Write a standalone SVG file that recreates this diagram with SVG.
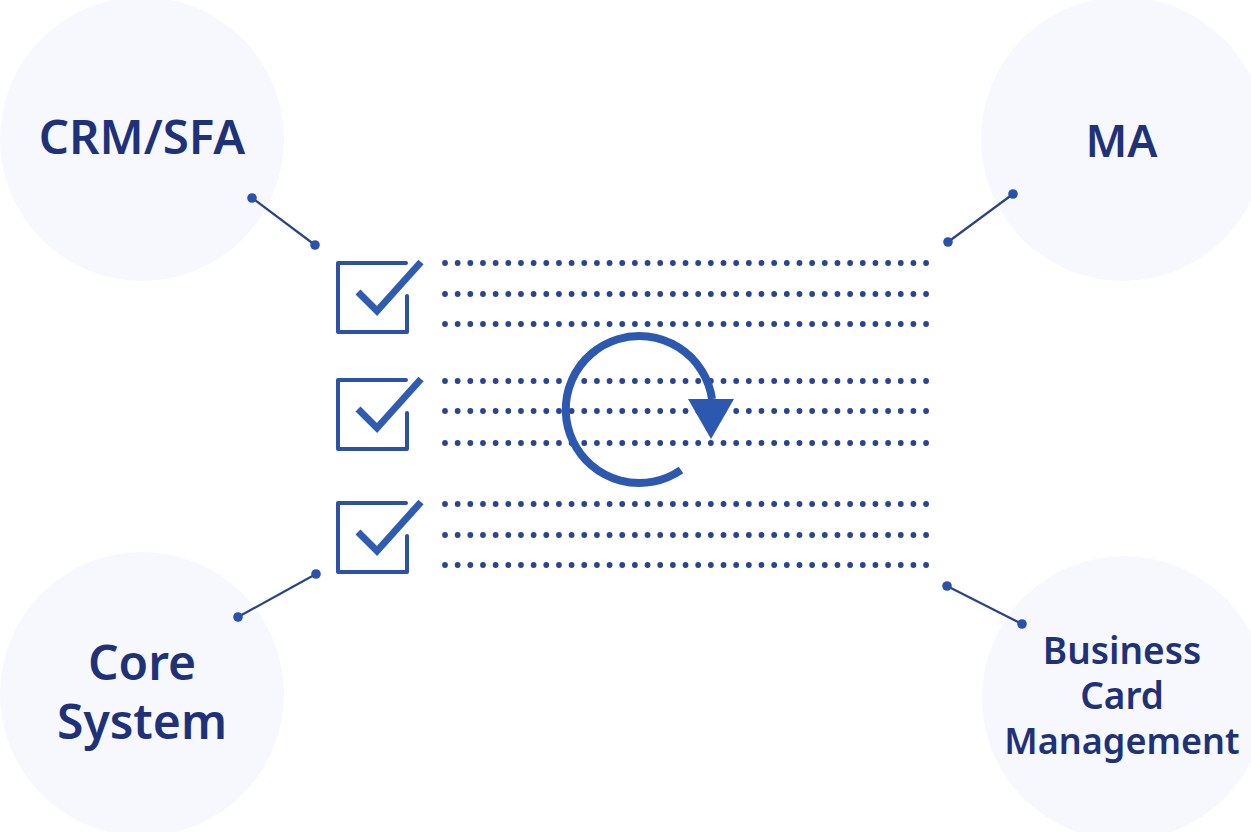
<svg xmlns="http://www.w3.org/2000/svg" width="1251" height="832" viewBox="0 0 1251 832">
<style>
.hub{fill:#f7f8fd}
.lbl{font-family:"Noto Sans","Open Sans",sans-serif;font-weight:600;fill:#1f3278;text-anchor:middle}
.big{font-size:48px}
.crm{font-size:47.500px}
.ma{font-size:45px}
.sm{font-size:37px}
.mg{font-size:36px}
.dots{stroke:#2a4590;stroke-width:5.800;stroke-linecap:round;stroke-dasharray:0 12.66;fill:none}
.conn{stroke:#2a4384;stroke-width:2.200;fill:none}
.end{fill:#2b52ab}
.box{stroke:#2b52a5;stroke-width:4;fill:none;stroke-linejoin:round;stroke-linecap:round}
.tick{stroke:#2f5bb0;stroke-width:7;fill:none;stroke-linejoin:miter}
</style>
<defs>
<g id="check">
<path class="box" d="M406 263H338V332H407V296"/>
<path class="tick" d="M358 292L377 311L421 262"/>
</g>
</defs>
<rect width="1251" height="832" fill="#ffffff"/>
<g id="node-crm"><circle class="hub" cx="142" cy="139" r="142"/><text class="lbl crm" x="142" y="154">CRM/SFA</text></g>
<g id="node-ma"><circle class="hub" cx="1123" cy="139" r="142"/><text class="lbl ma" x="1121.500" y="157">MA</text></g>
<g id="node-core"><circle class="hub" cx="142" cy="694" r="142"/><text class="lbl big" x="142" y="680">Core</text><text class="lbl big" x="142" y="739">System</text></g>
<g id="node-card"><circle class="hub" cx="1124" cy="698" r="142"/><text class="lbl sm" x="1122" y="664">Business</text><text class="lbl sm" x="1122" y="709">Card</text><text class="lbl mg" x="1122" y="754">Management</text></g>
<g id="connectors">
<path class="conn" d="M252 198L315 245"/><circle class="end" cx="252" cy="198" r="4.800"/><circle class="end" cx="315" cy="245" r="4.800"/>
<path class="conn" d="M1013 194L948 242"/><circle class="end" cx="1013" cy="194" r="4.800"/><circle class="end" cx="948" cy="242" r="4.800"/>
<path class="conn" d="M238 617L316 574"/><circle class="end" cx="238" cy="617" r="4.800"/><circle class="end" cx="316" cy="574" r="4.800"/>
<path class="conn" d="M947 586L1022 624"/><circle class="end" cx="947" cy="586" r="4.800"/><circle class="end" cx="1022" cy="624" r="4.800"/>
</g>
<g id="checklist">
<use href="#check"/>
<use href="#check" y="117"/>
<use href="#check" y="240"/>
<path class="dots" d="M445 263H930"/><path class="dots" d="M445 294H930"/><path class="dots" d="M445 324H930"/>
<path class="dots" d="M445 381H930"/><path class="dots" d="M445 411H930"/><path class="dots" d="M445 443H930"/>
<path class="dots" d="M445 504H930"/><path class="dots" d="M445 535H930"/><path class="dots" d="M445 565H930"/>
</g>
<g id="cycle">
<path d="M681 470A73.500 73.500 0 1 1 712 399" fill="none" stroke="#2d58b0" stroke-width="8"/>
<path d="M688 399H734L711 439Z" fill="#2d58b0"/>
</g>
</svg>
